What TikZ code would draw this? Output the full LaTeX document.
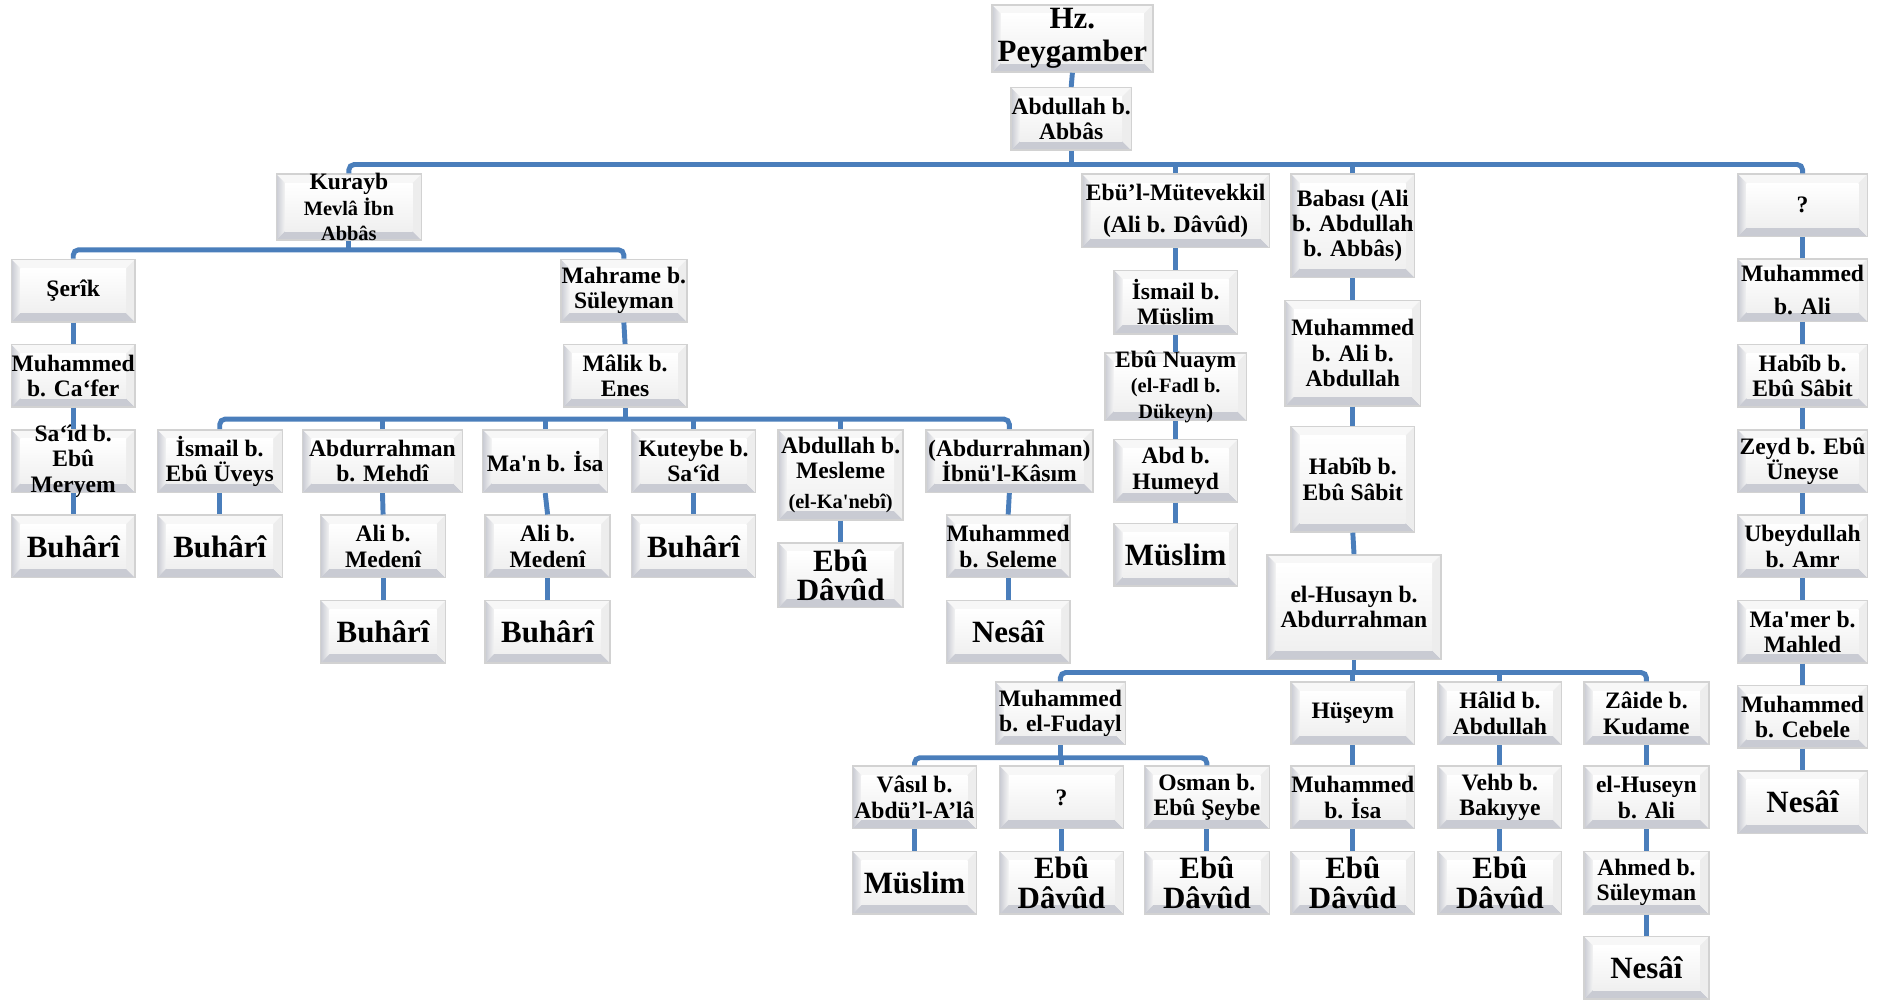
\documentclass[tikz,border=0pt]{standalone}
\usepackage{fontspec}
\newfontfamily\trfont{Liberation Serif}
\usepackage{tikz}
\usetikzlibrary{positioning, calc}
\definecolor{isnadblue}{HTML}{4A7EBB}
\definecolor{bevelgray}{HTML}{C9CBD3}
\newcommand\nm{\trfont\bfseries\fontsize{6.7}{7.2}\selectfont}
\newcommand\bignm{\trfont\bfseries\fontsize{8.8}{8.4}\selectfont}
\newcommand\smnm{\trfont\bfseries\fontsize{5.8}{6.3}\selectfont}

\begin{document}
\begin{tikzpicture}[
  x=0.12mm, y=-0.12mm,
  wd/.style={minimum width=#1*\px},
  ht/.style={minimum height=#1*\px},
  bevel/.style={path picture={
    \coordinate (nw) at (path picture bounding box.north west);
    \coordinate (ne) at (path picture bounding box.north east);
    \coordinate (se) at (path picture bounding box.south east);
    \coordinate (sw) at (path picture bounding box.south west);
    \coordinate (inw) at ([shift={(\bev,-\bev)}]nw);
    \coordinate (ine) at ([shift={(-\bev,-\bev)}]ne);
    \coordinate (ise) at ([shift={(-\bev,\bev)}]se);
    \coordinate (isw) at ([shift={(\bev,\bev)}]sw);
    \fill[gray!6] (nw) -- (ne) -- (ine) -- (inw) -- cycle;
    \shade[left color=bevelgray, right color=gray!8] (nw) -- (inw) -- (isw) -- (sw) -- cycle;
    \fill[bevelgray] (sw) -- (isw) -- (ise) -- (se) -- cycle;
    \fill[gray!14] (ne) -- (se) -- (ise) -- (ine) -- cycle;
    \shade[top color=white, bottom color=gray!12] (inw) rectangle (ise);
  }},
  ravi/.style={draw=gray!35, line width=0.4pt, inner xsep=-2mm, inner ysep=-2mm,
    minimum width=103*\px, minimum height=52*\px, align=center, font=\nm, bevel},
  kitap/.style={ravi, font=\bignm},
  conn/.style={draw=isnadblue, line width=1.4pt},
  bar/.style={conn, rounded corners=1.5pt}
]

\def\px{0.12mm} % one pixel of the layout grid
\def\bev{0.9mm}

\fill[white] (0,0) rectangle (1568,833);
\useasboundingbox (0,0) rectangle (1568,833);

\node[kitap, wd=134, ht=56] (hz) at (893,32) {Hz.\\[0.8pt]Peygamber};
\node[ravi, wd=100] (abbas) at (892,99) {Abdullah b.\\Abbâs};

\node[ravi, wd=121, ht=55] (kurayb) at (290.5,172.5) {Kurayb\\\smnm Mevlâ İbn\\\smnm Abbâs};
\node[ravi, wd=156, ht=61] (mutevekkil) at (979,175.5) {Ebü’l-Mütevekkil\\[2pt](Ali b. Dâvûd)};
\node[ravi, ht=86] (babasi) at (1126.5,188) {Babası (Ali\\b. Abdullah\\b. Abbâs)};
\node[ravi, wd=108] (bilinmez1) at (1501,171) {?};

\node[ravi] (serik) at (61,242) {Şerîk};
\node[ravi] (cafer) at (61,313) {Muhammed\\b. Ca‘fer};
\node[ravi] (said) at (61,384) {Sa‘îd b.\\Ebû\\Meryem};
\node[kitap] (buh1) at (61,455) {Buhârî};
\node[ravi, wd=105] (mahrame) at (519.5,242) {Mahrame b.\\Süleyman};
\node[ravi] (malik) at (520.5,313) {Mâlik b.\\Enes};

\node[ravi, wd=104] (ismail) at (183,384) {İsmail b.\\Ebû Üveys};
\node[ravi, wd=133] (mehdi) at (318.5,384) {Abdurrahman\\b. Mehdî};
\node[ravi, wd=104] (man) at (454,384) {Ma'n b. İsa};
\node[ravi] (kuteybe) at (577.5,384) {Kuteybe b.\\Sa‘îd};
\node[ravi, wd=104, ht=75] (mesleme) at (700,395.5) {Abdullah b.\\Mesleme\\[1.5pt]\smnm (el-Ka'nebî)};
\node[ravi, wd=139] (kasim) at (840.5,384) {(Abdurrahman)\\İbnü'l-Kâsım};

\node[kitap, wd=104] (buh2) at (183,455) {Buhârî};
\node[ravi, wd=104] (medeni1) at (319,455) {Ali b.\\Medenî};
\node[ravi, wd=104] (medeni2) at (456,455) {Ali b.\\Medenî};
\node[kitap] (buh5) at (577.5,455) {Buhârî};
\node[kitap, wd=104, ht=54] (ebud1) at (700,479) {Ebû\\Dâvûd};
\node[ravi] (seleme) at (839.5,455) {Muhammed\\b. Seleme};
\node[kitap, wd=104] (buh3) at (319,526) {Buhârî};
\node[kitap, wd=104] (buh4) at (456,526) {Buhârî};
\node[kitap] (nesai1) at (839.5,526) {Nesâî};

\node[ravi, ht=53] (ismuslim) at (979,251.5) {İsmail b.\\Müslim};
\node[ravi, wd=118, ht=56] (nuaym) at (979,322) {Ebû Nuaym\\\smnm (el-Fadl b.\\\smnm Dükeyn)};
\node[ravi] (humeyd) at (979,392) {Abd b.\\Humeyd};
\node[kitap] (muslim1) at (979,462) {Müslim};

\node[ravi, wd=113, ht=88] (ibnali) at (1126.5,294) {Muhammed\\b. Ali b.\\Abdullah};
\node[ravi, ht=88] (habib1) at (1126.5,399) {Habîb b.\\Ebû Sâbit};
\node[ravi, wd=145, ht=87] (husayn) at (1127.5,505.5) {el-Husayn b.\\Abdurrahman};

\node[ravi, wd=108] (fudayl) at (883,594) {Muhammed\\b. el-Fudayl};
\node[ravi] (huseym) at (1126.5,594) {Hüşeym};
\node[ravi] (halid) at (1249,594) {Hâlid b.\\Abdullah};
\node[ravi, wd=104] (zaide) at (1371,594) {Zâide b.\\Kudame};

\node[ravi] (vasil) at (761.5,664) {Vâsıl b.\\Abdü’l-A’lâ};
\node[ravi] (bilinmez2) at (884,664) {?};
\node[ravi, wd=104] (osman) at (1005,664) {Osman b.\\Ebû Şeybe};
\node[ravi] (ibnisa) at (1126.5,664) {Muhammed\\b. İsa};
\node[ravi] (vehb) at (1249,664) {Vehb b.\\Bakıyye};
\node[ravi, wd=104] (huseyn) at (1371,664) {el-Huseyn\\b. Ali};

\node[kitap] (muslim2) at (761.5,735) {Müslim};
\node[kitap] (ebud2) at (884,735) {Ebû\\Dâvûd};
\node[kitap, wd=104] (ebud3) at (1005,735) {Ebû\\Dâvûd};
\node[kitap] (ebud4) at (1126.5,735) {Ebû\\Dâvûd};
\node[kitap] (ebud5) at (1249,735) {Ebû\\Dâvûd};
\node[ravi, wd=104] (ahmed) at (1371,735) {Ahmed b.\\Süleyman};
\node[kitap, wd=104] (nesai2) at (1371,806) {Nesâî};

\node[ravi, wd=108] (ibnali2) at (1501,241.5) {Muhammed\\[2.2pt]b. Ali};
\node[ravi, wd=108] (habib2) at (1501,313) {Habîb b.\\Ebû Sâbit};
\node[ravi, wd=108] (zeyd) at (1501,384) {Zeyd b. Ebû\\Üneyse};
\node[ravi, wd=108] (ubeyd) at (1501,455) {Ubeydullah\\b. Amr};
\node[ravi, wd=108] (mamer) at (1501,526) {Ma'mer b.\\Mahled};
\node[ravi, wd=108] (cebele) at (1501,597) {Muhammed\\b. Cebele};
\node[kitap, wd=108] (nesai3) at (1501,668) {Nesâî};

\coordinate (bar0) at (892,137);
\coordinate (bar1) at (290.5,208);
\coordinate (bar2) at (520.5,349);
\coordinate (bar3) at (1127.5,560);
\coordinate (bar4) at (883,631);

\draw[conn] (hz.south) -- (abbas.north);
\draw[bar] (kurayb.north) |- (bar0) -| (bilinmez1.north);
\draw[conn] (abbas.south) -- (bar0);
\draw[conn] (mutevekkil.north) -- (mutevekkil.north |- bar0);
\draw[conn] (babasi.north) -- (babasi.north |- bar0);

\draw[bar] (serik.north) |- (bar1) -| (mahrame.north);
\draw[conn] (kurayb.south) -- (bar1);
\draw[conn] (serik.south) -- (cafer.north);
\draw[conn] (cafer.south) -- (said.north);
\draw[conn] (said.south) -- (buh1.north);
\draw[conn] (mahrame.south) -- (malik.north);

\draw[bar] (ismail.north) |- (bar2) -| (kasim.north);
\draw[conn] (malik.south) -- (bar2);
\draw[conn] (mehdi.north) -- (mehdi.north |- bar2);
\draw[conn] (man.north) -- (man.north |- bar2);
\draw[conn] (kuteybe.north) -- (kuteybe.north |- bar2);
\draw[conn] (mesleme.north) -- (mesleme.north |- bar2);
\draw[conn] (ismail.south) -- (buh2.north);
\draw[conn] (mehdi.south) -- (medeni1.north);
\draw[conn] (medeni1.south) -- (buh3.north);
\draw[conn] (man.south) -- (medeni2.north);
\draw[conn] (medeni2.south) -- (buh4.north);
\draw[conn] (kuteybe.south) -- (buh5.north);
\draw[conn] (mesleme.south) -- (ebud1.north);
\draw[conn] (kasim.south) -- (seleme.north);
\draw[conn] (seleme.south) -- (nesai1.north);

\draw[conn] (mutevekkil.south) -- (ismuslim.north);
\draw[conn] (ismuslim.south) -- (nuaym.north);
\draw[conn] (nuaym.south) -- (humeyd.north);
\draw[conn] (humeyd.south) -- (muslim1.north);

\draw[conn] (babasi.south) -- (ibnali.north);
\draw[conn] (ibnali.south) -- (habib1.north);
\draw[conn] (habib1.south) -- (husayn.north);

\draw[bar] (fudayl.north) |- (bar3) -| (zaide.north);
\draw[conn] (husayn.south) -- (bar3);
\draw[conn] (huseym.north) -- (huseym.north |- bar3);
\draw[conn] (halid.north) -- (halid.north |- bar3);

\draw[bar] (vasil.north) |- (bar4) -| (osman.north);
\draw[conn] (fudayl.south) -- (bar4);
\draw[conn] (bilinmez2.north) -- (bilinmez2.north |- bar4);
\draw[conn] (vasil.south) -- (muslim2.north);
\draw[conn] (bilinmez2.south) -- (ebud2.north);
\draw[conn] (osman.south) -- (ebud3.north);
\draw[conn] (huseym.south) -- (ibnisa.north);
\draw[conn] (ibnisa.south) -- (ebud4.north);
\draw[conn] (halid.south) -- (vehb.north);
\draw[conn] (vehb.south) -- (ebud5.north);
\draw[conn] (zaide.south) -- (huseyn.north);
\draw[conn] (huseyn.south) -- (ahmed.north);
\draw[conn] (ahmed.south) -- (nesai2.north);

\draw[conn] (bilinmez1.south) -- (ibnali2.north);
\draw[conn] (ibnali2.south) -- (habib2.north);
\draw[conn] (habib2.south) -- (zeyd.north);
\draw[conn] (zeyd.south) -- (ubeyd.north);
\draw[conn] (ubeyd.south) -- (mamer.north);
\draw[conn] (mamer.south) -- (cebele.north);
\draw[conn] (cebele.south) -- (nesai3.north);

\end{tikzpicture}
\end{document}
